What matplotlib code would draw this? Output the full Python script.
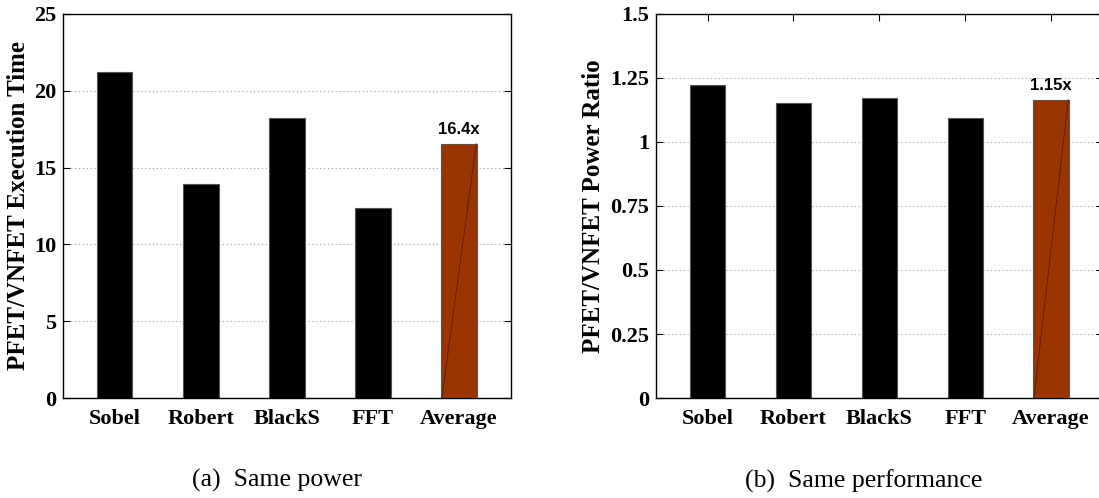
import matplotlib
matplotlib.use("Agg")
import matplotlib.pyplot as plt
import numpy as np

# benchmarks on both panels
categories = ["Sobel", "Robert", "BlackS", "FFT", "Average"]

# (a) same power: PFET/VNFET execution time
exec_time = [21.2, 13.9, 18.25, 12.4, 16.55]
exec_label = "16.4x"
exec_ticks = [0, 5, 10, 15, 20, 25]

# (b) same performance: PFET/VNFET power ratio
power_ratio = [1.221, 1.151, 1.170, 1.092, 1.165]
power_label = "1.15x"
power_ticks = [0, 0.25, 0.5, 0.75, 1, 1.25, 1.5]
power_ticklabels = ["0", "0.25", "0.5", "0.75", "1", "1.25", "1.5"]

SERIF = "Liberation Serif"
SANS = "Liberation Sans"
AVG_COLOR = "#993300"


def draw_panel(ax, values, ticks, ticklabels, ylabel, note, caption,
               label_x, caption_x, top_ticks):
    x = np.arange(1, len(categories) + 1)
    colors = ["black"] * (len(values) - 1) + [AVG_COLOR]
    ax.bar(x, values, width=0.41, color=colors, edgecolor="#555555",
           linewidth=0.8, zorder=3)

    # the MATLAB export leaves a thin diagonal inside the average bar
    ax.plot([x[-1] - 0.2, x[-1] + 0.2], [0, values[-1]],
            color="#5a1a00", linewidth=0.6, zorder=4)

    ax.text(x[-1], values[-1] + ticks[-1] * 0.018, note, ha="center",
            va="bottom", fontsize=12, fontweight="bold", family=SANS)

    ax.set_xlim(0.4, 5.6)
    ax.set_ylim(ticks[0], ticks[-1])
    ax.set_yticks(ticks)
    ax.set_yticklabels(ticklabels)
    ax.set_xticks(x)
    ax.set_xticklabels(categories)
    for lab in ax.get_xticklabels() + ax.get_yticklabels():
        lab.set_fontfamily(SERIF)
        lab.set_fontweight("bold")
        lab.set_fontsize(16)

    ax.tick_params(axis="both", direction="in", length=5, width=0.8,
                   top=top_ticks, right=True)
    ax.tick_params(axis="x", pad=8)
    ax.tick_params(axis="y", pad=5)
    ax.yaxis.grid(True, linestyle=(0, (1, 2.5)), color="#999999",
                  linewidth=0.8, zorder=0)
    ax.set_axisbelow(True)
    for sp in ax.spines.values():
        sp.set_linewidth(1.0)

    ax.set_ylabel(ylabel, fontsize=18, fontweight="bold", family=SERIF)
    ax.yaxis.set_label_coords(label_x, 0.5)

    ax.text(caption_x, -0.216, caption, transform=ax.transAxes, ha="center",
            va="center", fontsize=18.5, family=SERIF)


fig = plt.figure(figsize=(10.99, 4.98), dpi=100)

ax1 = fig.add_axes([0.0575, 0.2008, 0.4072, 0.7711])
draw_panel(ax1, exec_time, exec_ticks, [str(t) for t in exec_ticks],
           "PFET/VNFET Execution Time", exec_label, "(a)  Same power",
           -0.075, 0.477, False)

ax2 = fig.add_axes([0.5969, 0.2008, 0.4064, 0.7711])
draw_panel(ax2, power_ratio, power_ticks, power_ticklabels,
           "PFET/VNFET Power Ratio", power_label, "(b)  Same performance",
           -0.114, 0.466, True)

fig.savefig("out.png", dpi=100)
